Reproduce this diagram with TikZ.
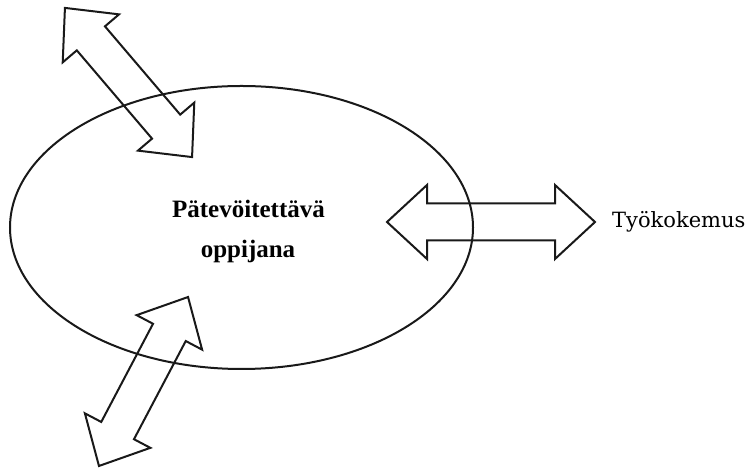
\documentclass[tikz,border=0pt]{standalone}
\usepackage{fontspec}
\setmainfont{Liberation Serif}
\newfontfamily\slabfont{DejaVu Serif}
\usetikzlibrary{shapes.geometric}

\tikzset{
  outline/.style={draw=black!90, line width=2pt, line join=miter},
  centrelabel/.style={font=\fontsize{25}{30}\selectfont\bfseries, inner sep=0pt, anchor=base},
  sidelabel/.style={font=\slabfont\fontsize{21}{25}\selectfont, inner sep=0pt, anchor=base west},
  % open double-headed block arrow, centred on the origin along the x axis
  pics/twoway/.style={code={
    \pgfmathsetmacro\hl{#1/2}
    \pgfmathsetmacro\hb{#1/2-40}
    \draw[outline] (-\hl,0) -- (-\hb,37) -- (-\hb,18.5) -- (\hb,18.5) -- (\hb,37)
      -- (\hl,0) -- (\hb,-37) -- (\hb,-18.5) -- (-\hb,-18.5) -- (-\hb,-37) -- cycle;
  }}
}

\begin{document}
\begin{tikzpicture}[x=1pt, y=1pt]
  \useasboundingbox (0,0) rectangle (752,468);

  % the learner in the middle
  \node[outline, ellipse, minimum width=463pt, minimum height=283pt, inner sep=0pt] (learner) at (241.5,240.5) {};
  \node[centrelabel] (title1) at (248.5,250) {Pätevöitettävä};
  \node[centrelabel] (title2) at (248,210) {oppijana};

  % exchanges with the surroundings
  \pic[rotate=-49.56] (upper) at (128.5,385.5) {twoway=196};
  \pic (right) at (491,246) {twoway=208};
  \pic[rotate=62.2] (lower) at (143.5,86.5) {twoway=191};

  \node[sidelabel] (work) at (612,240) {Työkokemus};
\end{tikzpicture}
\end{document}
